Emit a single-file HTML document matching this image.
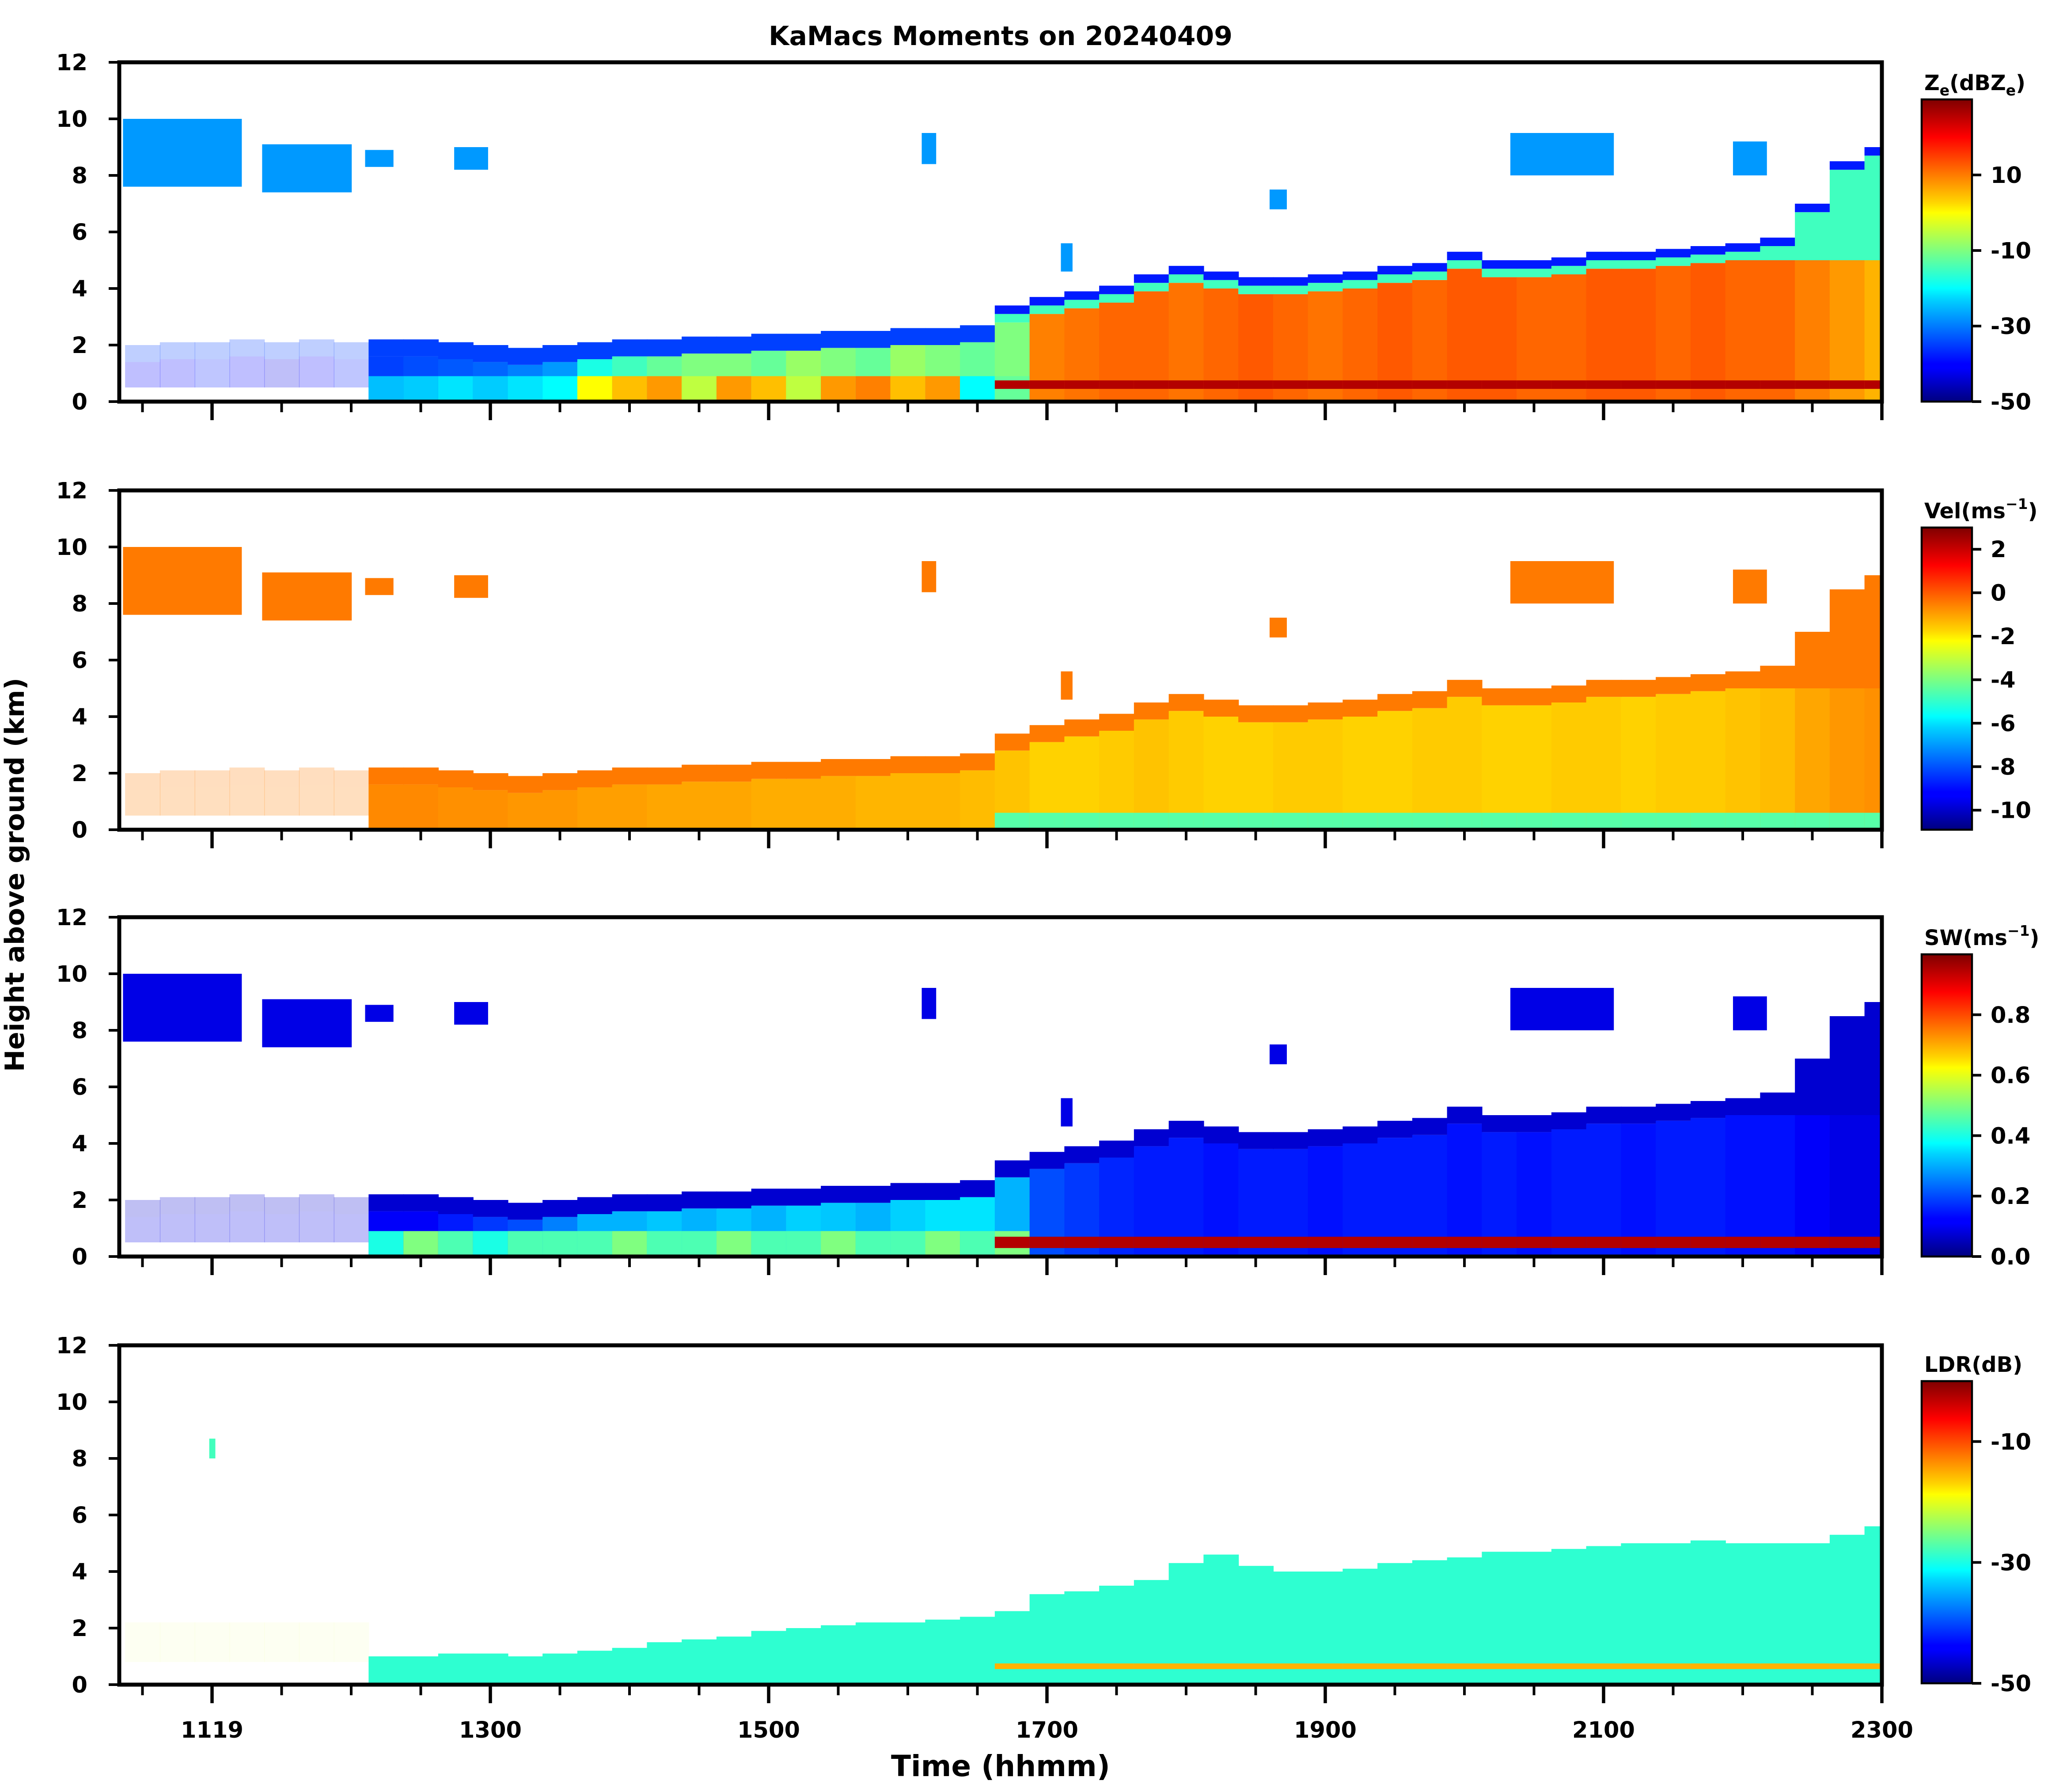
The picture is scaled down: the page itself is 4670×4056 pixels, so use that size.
<!DOCTYPE html>
<html>
<head>
<meta charset="utf-8">
<style>
html,body{margin:0;padding:0;background:#fff;}
svg{display:block;font-family:"DejaVu Sans","Liberation Sans",sans-serif;font-weight:bold;}
</style>
</head>
<body>
<svg id="chart" xmlns="http://www.w3.org/2000/svg" width="4670" height="4056" viewBox="0 0 1556.667 1352">
<rect x="0" y="0" width="1556.667" height="1352" fill="#fff"/>
<defs>
<linearGradient id="jetv" x1="0" y1="1" x2="0" y2="0">
<stop offset="0" stop-color="#00007f"/><stop offset="0.11" stop-color="#0000ff"/><stop offset="0.125" stop-color="#0000ff"/>
<stop offset="0.34" stop-color="#00d4ff"/><stop offset="0.375" stop-color="#00ffff"/><stop offset="0.5" stop-color="#7fff7f"/>
<stop offset="0.625" stop-color="#ffff00"/><stop offset="0.66" stop-color="#ffd400"/><stop offset="0.875" stop-color="#ff0000"/>
<stop offset="1" stop-color="#7f0000"/>
</linearGradient>
</defs>
<g id="plots"></g>
<text x="755" y="34" text-anchor="middle" font-size="20">KaMacs Moments on 20240409</text>
<text x="755" y="1340" text-anchor="middle" font-size="22">Time (hhmm)</text>
<text transform="translate(18,660) rotate(-90)" text-anchor="middle" font-size="20">Height above ground (km)</text>
</svg>
<script>
const times = [10.5,10.75,11,11.25,11.5,11.75,12,12.25,12.5,12.75,13,13.25,13.5,13.75,14,14.25,14.5,14.75,15,15.25,15.5,15.75,16,16.25,16.5,16.75,17,17.25,17.5,17.75,18,18.25,18.5,18.75,19,19.25,19.5,19.75,20,20.25,20.5,20.75,21,21.25,21.5,21.75,22,22.25,22.5,22.75,23];
const lowTop = [2.0,2.1,2.1,2.2,2.1,2.2,2.1,2.2,2.2,2.1,2.0,1.9,2.0,2.1,2.2,2.2,2.3,2.3,2.4,2.4,2.5,2.5,2.6,2.6,2.7,3.4,3.7,3.9,4.1,4.5,4.8,4.6,4.4,4.4,4.5,4.6,4.8,4.9,5.3,5.0,5.0,5.1,5.3,5.3,5.4,5.5,5.6,5.8,7.0,8.5,9.0];
const ldrTop = [0,0,0,0,0,0,0,1.0,1.0,1.1,1.1,1.0,1.1,1.2,1.3,1.5,1.6,1.7,1.9,2.0,2.1,2.2,2.2,2.3,2.4,2.6,3.2,3.3,3.5,3.7,4.3,4.6,4.2,4.0,4.0,4.1,4.3,4.4,4.5,4.7,4.7,4.8,4.9,5.0,5.0,5.1,5.0,5.0,5.0,5.3,5.6];
const zeBody = [-40,-40,-38,-40,-42,-40,-38,-35,-34,-33,-32,-30,-28,-18,-15,-12,-10,-10,-12,-8,-10,-12,-8,-10,-12,-10,10,11,12,12,11,12,13,12,11,12,13,12,13,13,12,12,13,13,12,13,12,12,10,8,6];
const zeLow = [null,null,null,null,null,null,null,-25,-24,-22,-24,-22,-20,0,5,8,-5,8,5,-5,8,10,5,8,-20,-12,null,null,null,null,null,null,null,null,null,null,null,null,null,null,null,null,null,null,null,null,null,null,null,null,null];
const velBody = [-0.5,-0.5,-0.5,-0.5,-0.5,-0.5,-0.5,-0.6,-0.6,-0.7,-0.7,-0.8,-0.8,-0.9,-0.9,-1.0,-1.0,-1.0,-1.1,-1.1,-1.1,-1.2,-1.2,-1.2,-1.3,-1.4,-1.6,-1.6,-1.5,-1.4,-1.5,-1.6,-1.6,-1.5,-1.5,-1.6,-1.6,-1.5,-1.5,-1.6,-1.6,-1.5,-1.5,-1.6,-1.5,-1.5,-1.4,-1.3,-1.0,-0.8,-0.7];
const swBody = [0.1,0.1,0.1,0.1,0.1,0.1,0.1,0.12,0.12,0.15,0.18,0.2,0.25,0.3,0.3,0.32,0.3,0.32,0.3,0.33,0.32,0.3,0.33,0.35,0.35,0.3,0.2,0.18,0.16,0.15,0.15,0.14,0.15,0.15,0.14,0.15,0.15,0.15,0.14,0.15,0.14,0.15,0.15,0.14,0.15,0.15,0.14,0.14,0.12,0.1,0.1];
const swLow = [null,null,null,null,null,null,null,0.4,0.5,0.45,0.4,0.45,0.45,0.45,0.5,0.45,0.45,0.5,0.45,0.45,0.5,0.45,0.45,0.5,0.45,0.5,null,null,null,null,null,null,null,null,null,null,null,null,null,null,null,null,null,null,null,null,null,null,null,null,null];
const ldrBody = -29;
const upperStart = [10.36,11.36,12.1,12.74,16.1,17.1,18.6,20.33,21.93];
const upperEnd = [11.21,12.0,12.3,12.98,16.2,17.18,18.72,21.07,22.17];
const upperBottom = [7.6,7.4,8.3,8.2,8.4,4.6,6.8,8.0,8.0];
const upperTop = [10.0,9.1,8.9,9.0,9.5,5.6,7.5,9.5,9.2];
const yTicks = [0,2,4,6,8,10,12];
const xMajorTimes = [11.0,13,15,17,19,21,23];
const xMajorLabels = ["1119","1300","1500","1700","1900","2100","2300"];
const xMinorTimes = [10.5,11.5,12,12.5,13.5,14,14.5,15.5,16,16.5,17.5,18,18.5,19.5,20,20.5,21.5,22,22.5];
const zeTicks = [-50,-30,-10,10];
const velTicks = [-10,-8,-6,-4,-2,0,2];
const swTicks = [0.0,0.2,0.4,0.6,0.8];
const ldrTicks = [-50,-30,-10];

const NS="http://www.w3.org/2000/svg";
const root=document.getElementById('plots');
const X0=90,X1=1420,T0=10.3333,T1=23;
function xs(t){return X0+(t-T0)*(X1-X0)/(T1-T0);}
function jet(v){v=Math.max(0,Math.min(1,v));const c=x=>Math.round(255*Math.max(0,Math.min(1,x)));
return `rgb(${c(1.5-Math.abs(4*v-3))},${c(1.5-Math.abs(4*v-2))},${c(1.5-Math.abs(4*v-1))})`;}
function el(tag,attrs,parent){const e=document.createElementNS(NS,tag);for(const k in attrs)e.setAttribute(k,attrs[k]);(parent||root).appendChild(e);return e;}

const panels=[
 {top:47,cb:[75,303],vmin:-50,vmax:30,ticks:zeTicks,fmt:v=>String(v),name:'reflectivity'},
 {top:370,cb:[398,626],vmin:-10.9,vmax:3,ticks:velTicks,fmt:v=>String(v),name:'velocity'},
 {top:692,cb:[720,948],vmin:0,vmax:1,ticks:swTicks,fmt:v=>v.toFixed(1),name:'spectrum-width'},
 {top:1015,cb:[1042,1270],vmin:-50,vmax:0,ticks:ldrTicks,fmt:v=>String(v),name:'ldr'}
];
const H=256;

panels.forEach((p,pi)=>{
 const g=el('g',{});
 
 
 const ys=h=>p.top+H-h/12*H;
 const col=v=>jet((v-p.vmin)/(p.vmax-p.vmin));
 function box(t0,t1,b,tp,v,op,nm){
   const a=Math.max(xs(t0),X0),c=Math.min(xs(t1),X1);
   if(c<=a||tp<=b)return;
   const r=el('rect',{x:a,y:ys(tp),width:c-a+0.4,height:ys(b)-ys(tp),fill:col(v),opacity:op},g);
   
   
 }
 times.forEach((t,i)=>{
   const t0=t-0.125,t1=t+0.125;
   const early=t<12.2;
   const op=early?0.25:1;
   const base=early?0.5:0;
   if(pi===3){
     const tp=ldrTop[i];
     if(tp>0){box(t0,t1,0,tp,ldrBody,1,'ldr-column');
       if(t>=16.75)box(t0,t1,0.55,0.75,-15,1,'ldr-melting-band');}
     else box(t0,t1,0.8,2.2,-20,0.06,'ldr-sparse-echo');
     return;
   }
   const tp=lowTop[i];
   const bodyTop=Math.min(tp-0.6,5.0);
   let body,edge,low=null;
   if(pi===0){body=zeBody[i];edge=-15;low=zeLow[i];}
   else if(pi===1){body=velBody[i];edge=-0.4;}
   else {body=swBody[i];edge=0.08;low=swLow[i];}
   box(t0,t1,base,bodyTop,body,op,'column-body');
   if(pi===0 && t>=16.75){
     box(t0,t1,bodyTop,tp-0.3,edge,op,'column-top-edge');
     box(t0,t1,tp-0.3,tp,-38,op,'column-top-rim');
   } else if(pi===0){
     box(t0,t1,bodyTop,tp,-35,op,'column-top-edge');
   } else box(t0,t1,bodyTop,tp,edge,op,'column-top-edge');
   if(low!==null)box(t0,t1,0,0.9,low,1,'column-low-layer');
   if(t>=16.75){
     if(pi===0)box(t0,t1,0.45,0.75,26,1,'ze-ground-band');
     if(pi===1)box(t0,t1,0,0.6,-4.5,1,'vel-low-band');
     if(pi===2)box(t0,t1,0.3,0.7,0.95,1,'sw-ground-band');
   }
 });
 upperStart.forEach((s,k)=>{
   if(pi===3)return;
   const v=pi===0?-28:(pi===1?-0.4:0.1);
   box(s,upperEnd[k],upperBottom[k],upperTop[k],v,1,'upper-cloud');
 });
 if(pi===3)box(10.98,11.02,8.0,8.7,-28,1,'ldr-upper-speck');

 const fr=el('rect',{x:X0,y:p.top,width:X1-X0,height:H,fill:'none',stroke:'#000','stroke-width':3},g);
 
 
 yTicks.forEach(h=>{
   const tk=el('line',{x1:X0-8,x2:X0,y1:ys(h),y2:ys(h),stroke:'#000','stroke-width':2},g);
   
   
   const tl=el('text',{x:X0-24,y:ys(h)+6,'text-anchor':'end','font-size':17},g);
   
   
   tl.textContent=String(h);
 });
 const yb=p.top+H;
 xMajorTimes.forEach((t,k)=>{
   const tk=el('line',{x1:xs(t),x2:xs(t),y1:yb,y2:yb+14,stroke:'#000','stroke-width':2.5},g);
   
   
   if(pi===3){
     const tl=el('text',{x:xs(t),y:yb+40,'text-anchor':'middle','font-size':17},g);
     
     
     tl.textContent=xMajorLabels[k];
   }
 });
 xMinorTimes.forEach(t=>{
   const tk=el('line',{x1:xs(t),x2:xs(t),y1:yb,y2:yb+8,stroke:'#000','stroke-width':2},g);
   
   
 });

 const cx=1450,cw=38,ct=p.cb[0],cbm=p.cb[1];
 const cb=el('rect',{x:cx,y:ct,width:cw,height:cbm-ct,fill:'url(#jetv)',stroke:'#000','stroke-width':1.5},g);
 
 
 p.ticks.forEach(v=>{
   const y=cbm-(v-p.vmin)/(p.vmax-p.vmin)*(cbm-ct);
   const tk=el('line',{x1:cx+cw,x2:cx+cw+7,y1:y,y2:y,stroke:'#000','stroke-width':2},g);
   
   
   const tl=el('text',{x:cx+cw+14,y:y+6,'font-size':17},g);
   
   
   tl.textContent=p.fmt(v);
 });
});

const cbTitles=[
 {y:68,html:'Z<tspan font-size="11" dy="4">e</tspan><tspan dy="-4">(dBZ</tspan><tspan font-size="11" dy="4">e</tspan><tspan dy="-4">)</tspan>',n:'ze-colorbar-title'},
 {y:391,html:'Vel(ms<tspan font-size="11" dy="-7">−1</tspan><tspan dy="7">)</tspan>',n:'vel-colorbar-title'},
 {y:713,html:'SW(ms<tspan font-size="11" dy="-7">−1</tspan><tspan dy="7">)</tspan>',n:'sw-colorbar-title'},
 {y:1035,html:'LDR(dB)',n:'ldr-colorbar-title'}
];
cbTitles.forEach(c=>{
 const t=el('text',{x:1452,y:c.y,'font-size':16});
 
 
 t.innerHTML=c.html;
});
</script>
</body>
</html>
